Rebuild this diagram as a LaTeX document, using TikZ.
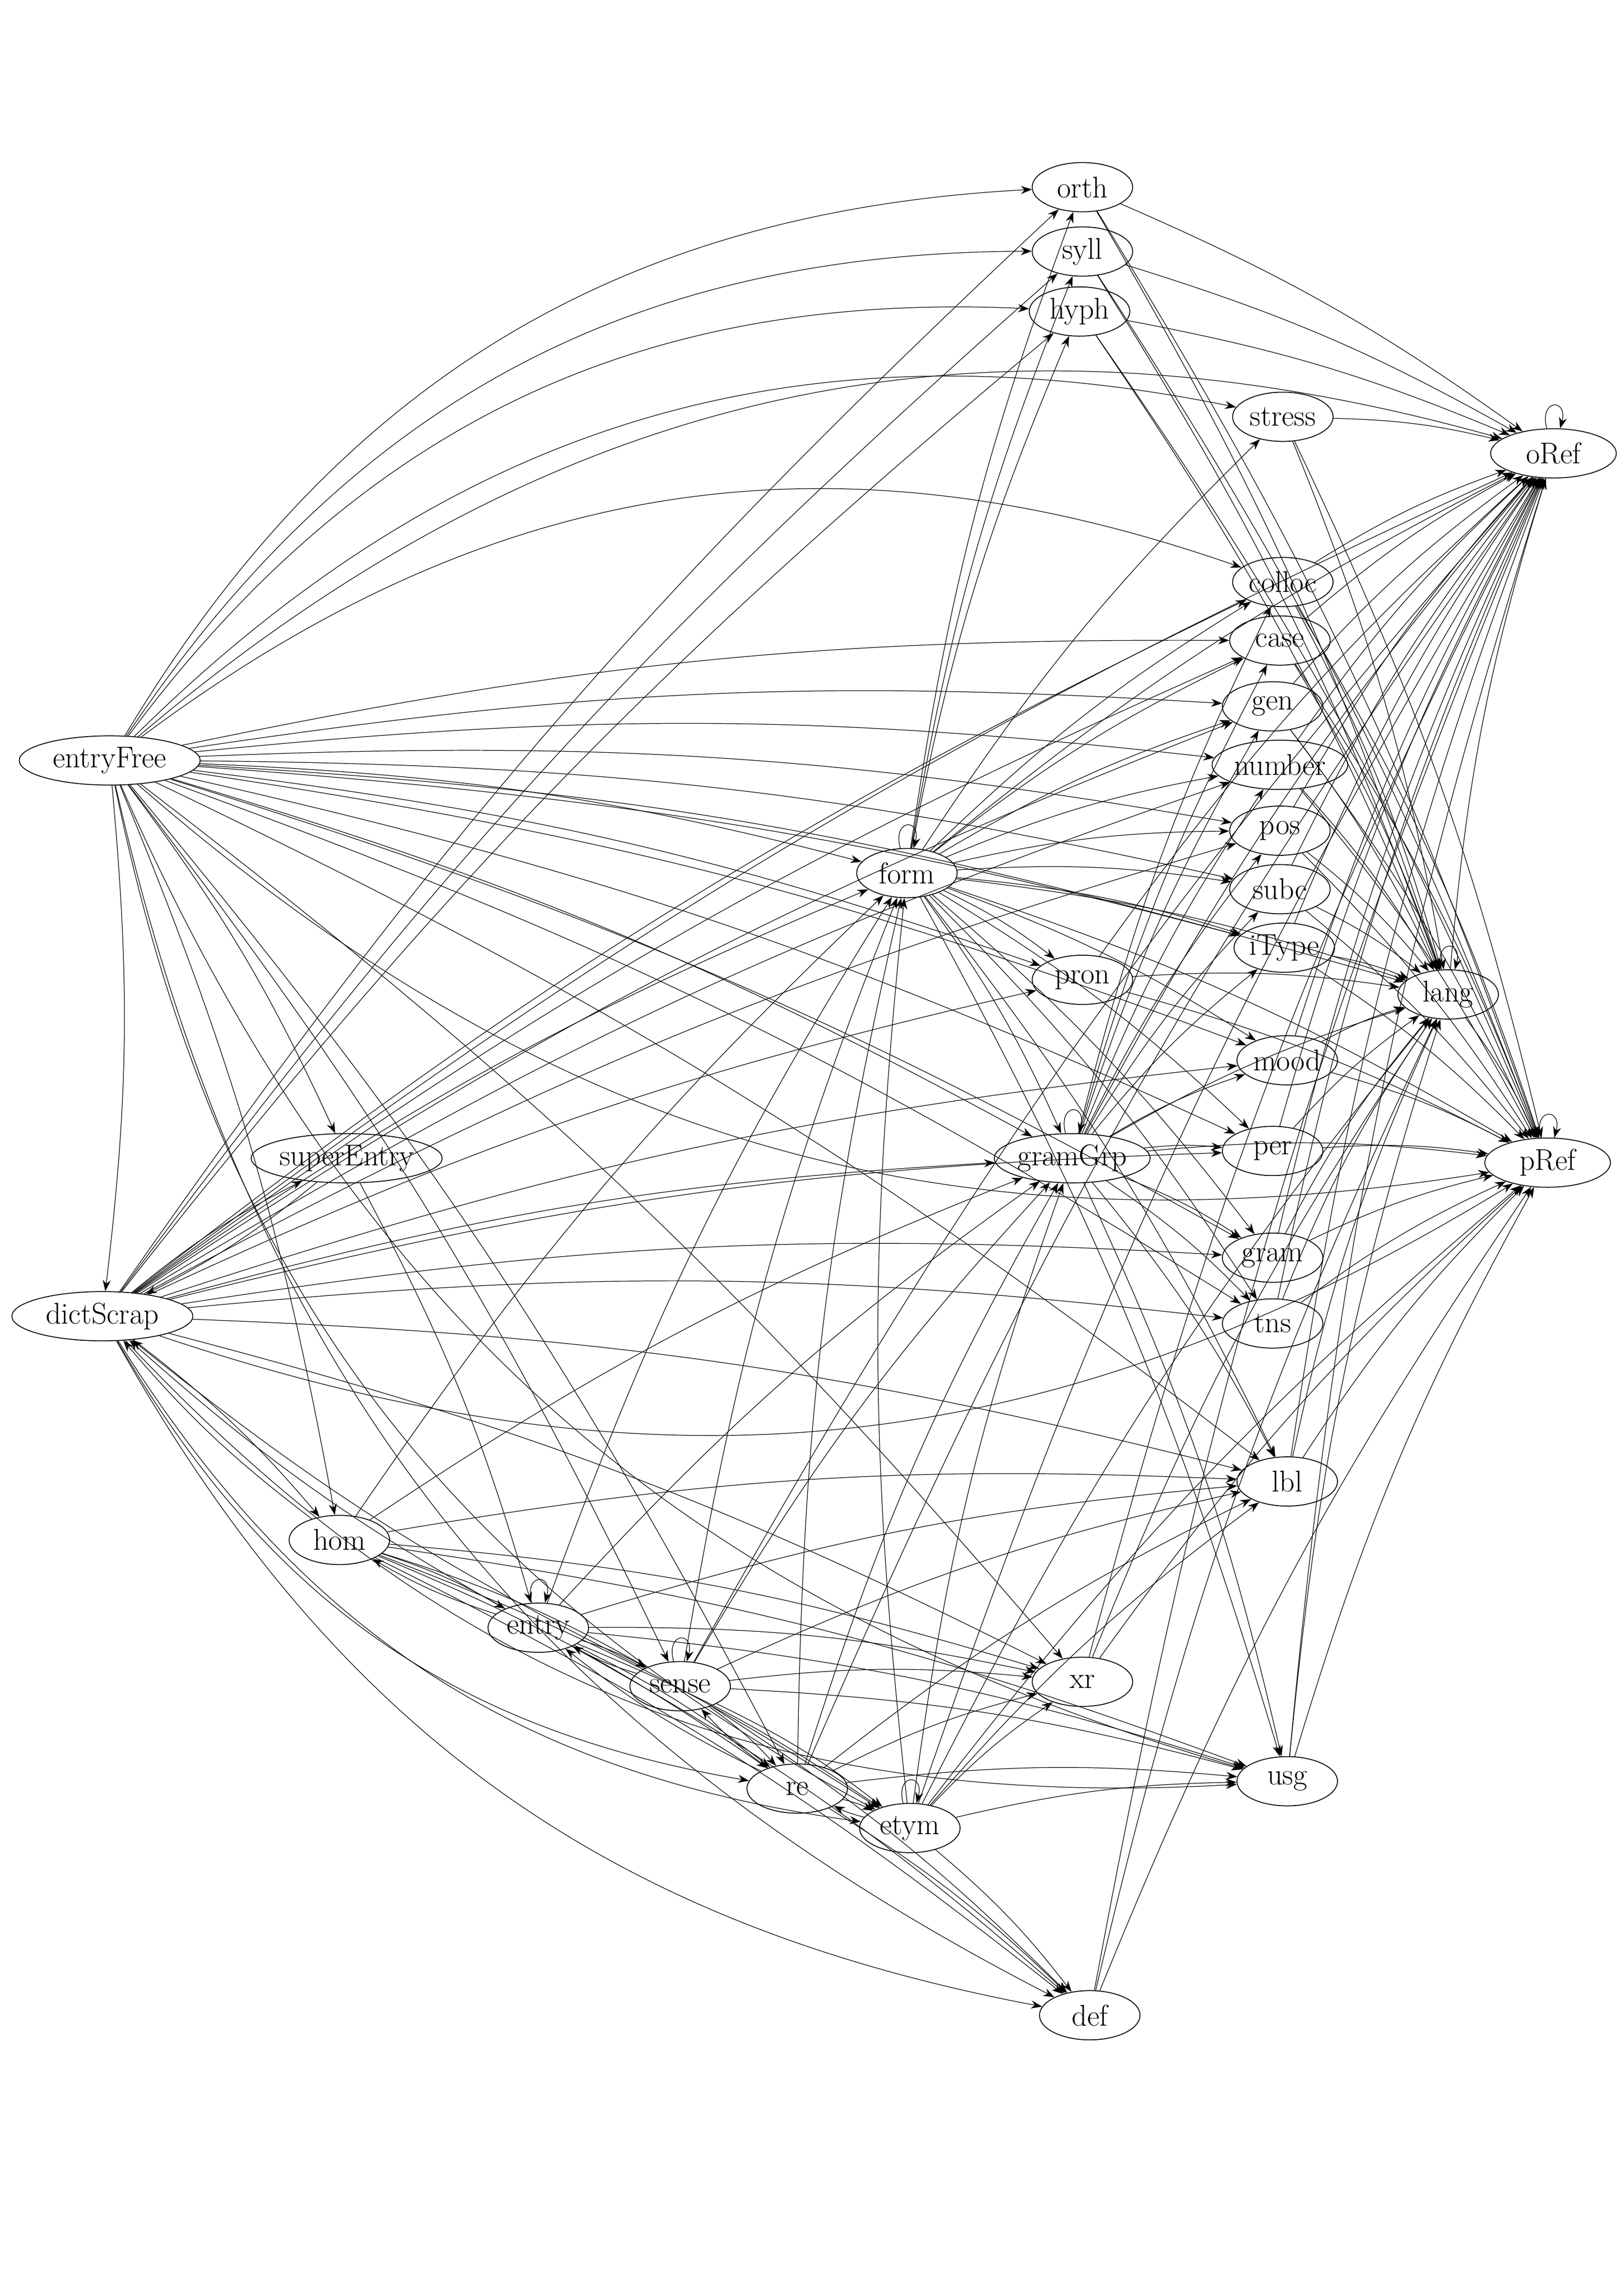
\documentclass[tikz,border=0pt]{standalone}
\usetikzlibrary{shapes.geometric, arrows.meta}
\begin{document}
\begin{tikzpicture}[x=0.0291cm, y=-0.0291cm,
    el/.style={ellipse, draw, line width=0.5pt, inner sep=0pt,
               minimum height=0.98cm, minimum width=2.0cm,
               font=\fontsize{17}{20}\selectfont},
    edge/.style={-{Stealth[length=2.2mm,width=1.6mm]}, line width=0.35pt, bend left=6},
    wide/.style={-{Stealth[length=2.2mm,width=1.6mm]}, line width=0.35pt, bend left=28},
    selfl/.style={-{Stealth[length=2.2mm,width=1.6mm]}, line width=0.35pt, loop above, looseness=6}
]
\useasboundingbox (0,0) rectangle (1110,1570);
% --- nodes ---
\node[el, minimum width=3.6cm] (entryFree) at (75,520) {entryFree};
\node[el, minimum width=3.6cm] (dictScrap) at (70,900) {dictScrap};
\node[el, minimum width=3.8cm] (superEntry) at (237,792) {superEntry};
\node[el] (hom) at (232,1053) {hom};
\node[el] (entry) at (368,1113) {entry};
\node[el] (sense) at (465,1153) {sense};
\node[el] (re) at (545,1223) {re};
\node[el] (etym) at (622,1250) {etym};
\node[el] (def) at (745,1378) {def};
\node[el] (xr) at (740,1150) {xr};
\node[el] (usg) at (880,1218) {usg};
\node[el] (lbl) at (880,1013) {lbl};
\node[el] (tns) at (870,905) {tns};
\node[el] (gram) at (870,860) {gram};
\node[el] (per) at (870,787) {per};
\node[el, minimum width=3.1cm] (gramGrp) at (733,792) {gramGrp};
\node[el] (mood) at (880,725) {mood};
\node[el] (pron) at (740,670) {pron};
\node[el] (iType) at (878,648) {iType};
\node[el] (form) at (620,597) {form};
\node[el] (subc) at (875,608) {subc};
\node[el] (pos) at (875,568) {pos};
\node[el, minimum width=2.7cm] (number) at (875,523) {number};
\node[el] (gen) at (870,483) {gen};
\node[el] (case) at (875,438) {case};
\node[el] (colloc) at (877,398) {colloc};
\node[el] (stress) at (877,285) {stress};
\node[el] (hyph) at (738,213) {hyph};
\node[el] (syll) at (740,172) {syll};
\node[el] (orth) at (740,128) {orth};
\node[el, minimum width=2.5cm] (oRef) at (1062,310) {oRef};
\node[el] (lang) at (990,680) {lang};
\node[el, minimum width=2.5cm] (pRef) at (1058,795) {pRef};
% --- edges ---
\foreach \s in {orth,syll,hyph,stress,colloc,case,gen,number,pos,subc,iType,pron,mood,per,gram,tns,lbl,usg,def,xr,etym}
  \foreach \t in {oRef,lang,pRef}
    \draw[edge] (\s) to (\t);
\draw[edge] (lang) to (oRef);
\draw[edge] (lang) to (pRef);
\foreach \t in {orth,syll,hyph,stress,colloc,case,gen,number,pos,subc,iType,pron,mood,per,gram,tns,lbl,usg,lang,oRef,pRef,gramGrp}
  \draw[edge] (form) to (\t);
\foreach \t in {colloc,case,gen,number,pos,subc,iType,mood,per,gram,tns,lbl,usg,lang,oRef,pRef}
  \draw[edge] (gramGrp) to (\t);
\foreach \t in {orth,syll,hyph,stress,colloc,oRef}
  \draw[wide] (entryFree) to (\t);
\foreach \t in {case,gen,number,pos,subc,form,pron,mood,gramGrp,per,gram,tns,lbl,superEntry,dictScrap,hom,sense,re,xr,iType,lang}
  \draw[edge] (entryFree) to (\t);
\foreach \t in {usg,def,etym,pRef}
  \draw[edge, bend right=25] (entryFree) to (\t);
\foreach \t in {orth,syll,hyph,colloc,case,gen,number,pos,form,pron,mood,gramGrp,per,gram,tns,lbl,superEntry,hom,xr,oRef}
  \draw[edge] (dictScrap) to (\t);
\foreach \t in {re,usg,def,etym,pRef}
  \draw[edge, bend right=25] (dictScrap) to (\t);
\foreach \s in {hom,entry,sense,superEntry}
  \draw[edge] (\s) to (dictScrap);
\foreach \t in {form,gramGrp,sense,re,xr,usg,def,etym,lbl,hom}
  \draw[edge] (entry) to (\t);
\foreach \t in {form,gramGrp,re,xr,usg,def,etym,lbl,entry,oRef}
  \draw[edge] (sense) to (\t);
\foreach \t in {form,gramGrp,entry,sense,re,xr,usg,def,etym,lbl}
  \draw[edge] (hom) to (\t);
\foreach \t in {form,gramGrp,entry,sense,xr,usg,def,etym,lbl,oRef}
  \draw[edge] (re) to (\t);
\foreach \t in {gramGrp,xr,usg,def,lbl,form,re}
  \draw[edge] (etym) to (\t);
\draw[edge] (superEntry) to (entry);
\foreach \n in {form,gramGrp,entry,sense,oRef,pRef,lang,etym}
  \draw[selfl] (\n) to (\n);
\end{tikzpicture}
\end{document}
